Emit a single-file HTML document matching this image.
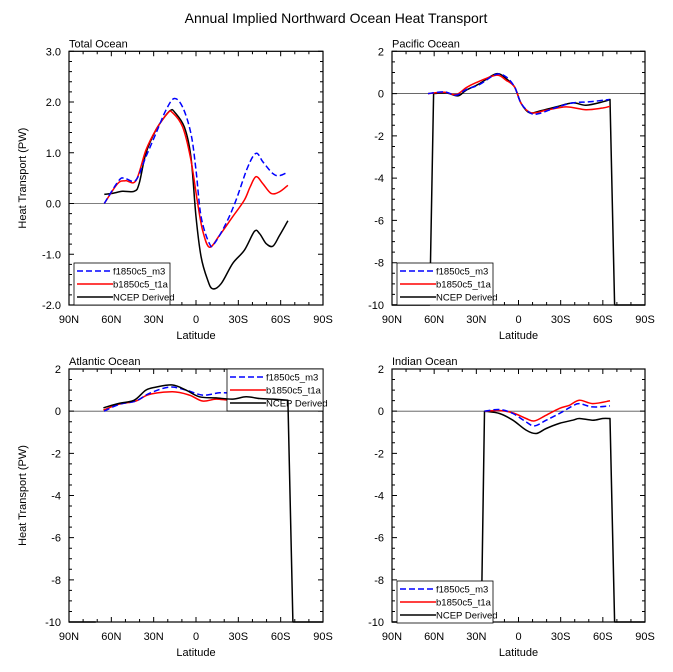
<!DOCTYPE html>
<html><head><meta charset="utf-8"><style>
html,body{margin:0;padding:0;background:#fff;}
svg{display:block;font-family:"Liberation Sans",Arial,sans-serif;}
</style></head><body>
<svg id="s" width="673" height="672" viewBox="0 0 673 672" xmlns="http://www.w3.org/2000/svg">
<text x="336" y="23" font-size="14" text-anchor="middle">Annual Implied Northward Ocean Heat Transport</text>
</svg>
<script>
const S=document.getElementById('s');const NS='http://www.w3.org/2000/svg';
function el(t,a,txt){const e=document.createElementNS(NS,t);for(const k in a)e.setAttribute(k,a[k]);if(txt!==undefined)e.textContent=txt;S.appendChild(e);return e;}
function smooth(P){ // P pixel points; straight segments where jump big
 let d='M'+P[0][0].toFixed(1)+' '+P[0][1].toFixed(1);
 const big=i=>Math.abs(P[i+1][1]-P[i][1])>60;
 for(let i=0;i<P.length-1;i++){
  if(big(i)){d+='L'+P[i+1][0].toFixed(1)+' '+P[i+1][1].toFixed(1);continue;}
  const p0=(i>0&&!big(i-1))?P[i-1]:P[i],p1=P[i],p2=P[i+1],p3=(i+2<P.length&&!big(i+1))?P[i+2]:P[i+1];
  const c1=[p1[0]+(p2[0]-p0[0])/6,p1[1]+(p2[1]-p0[1])/6],c2=[p2[0]-(p3[0]-p1[0])/6,p2[1]-(p3[1]-p1[1])/6];
  d+=`C${c1[0].toFixed(1)} ${c1[1].toFixed(1)} ${c2[0].toFixed(1)} ${c2[1].toFixed(1)} ${p2[0].toFixed(1)} ${p2[1].toFixed(1)}`;
 }
 return d;
}
function panel(P){
 const X=u=>P.x0+(u+90)*(P.x1-P.x0)/180;
 const Y=v=>P.y0+(P.vt-v)*(P.y1-P.y0)/(P.vt-P.vb);
 el('line',{x1:P.x0,x2:P.x1,y1:Y(0),y2:Y(0),stroke:'#555','stroke-width':0.8});
 let d='';
 for(let u=-90;u<=90;u+=10){const maj=u%30==0,L=maj?5:3;const x=X(u);d+=`M${x} ${P.y1}v${-L}M${x} ${P.y0}v${L}`;}
 for(let v=P.vb;v<=P.vt+1e-9;v+=P.mn){const maj=Math.abs((v-P.vb)/P.mj-Math.round((v-P.vb)/P.mj))<1e-6,L=maj?5:3;const y=Y(v);d+=`M${P.x0} ${y}h${L}M${P.x1} ${y}h${-L}`;}
 el('path',{d:d,stroke:'#000','stroke-width':1,fill:'none'});
 const labs=['90N','60N','30N','0','30S','60S','90S'];
 labs.forEach((l,i)=>el('text',{x:X(-90+30*i),y:P.y1+18,'font-size':11,'text-anchor':'middle'},l));
 for(let v=P.vb;v<=P.vt+1e-9;v+=P.mj){el('text',{x:P.x0-8,y:Y(v)+4,'font-size':11,'text-anchor':'end'},P.fmt(v));}
 el('text',{x:(P.x0+P.x1)/2,y:P.y1+34,'font-size':11,'text-anchor':'middle'},'Latitude');
 el('text',{x:P.x0,y:P.y0-4,'font-size':11},P.title);
 if(P.ylab)el('text',{x:0,y:0,'font-size':11,'text-anchor':'middle',transform:`translate(${P.x0-43},${(P.y0+P.y1)/2}) rotate(-90)`},'Heat Transport (PW)');
 P.line=(pts,c,dash)=>{el('path',{d:smooth(pts.map(p=>[X(p[0]),Y(p[1])])),fill:'none',stroke:c,'stroke-width':1.5,'stroke-linejoin':'round','stroke-dasharray':dash||'none'});};
 P.line(P.k,'#000');P.line(P.r,'#f00');P.line(P.b,'#0000ff','6 3');
 el('rect',{x:P.x0,y:P.y0,width:P.x1-P.x0,height:P.y1-P.y0,fill:'none',stroke:'#000','stroke-width':1.2});
 const g=P.lg;el('rect',{x:g[0],y:g[1],width:96,height:42,fill:'#fff',stroke:'#000','stroke-width':0.8});
 [['f1850c5_m3','#0000ff','6 3'],['b1850c5_t1a','#f00'],['NCEP Derived','#000']].forEach((e,i)=>{const y=g[1]+8+i*13;
  el('line',{x1:g[0]+3,x2:g[0]+39,y1:y,y2:y,stroke:e[1],'stroke-width':1.5,'stroke-dasharray':e[2]||'none'});
  el('text',{x:g[0]+39,y:y+3.5,'font-size':9.5},e[0]);});
 return P;
}
const f1=v=>v.toFixed(1),f0=v=>String(Math.round(v));
panel({x0:69,x1:323,y0:51.3,y1:305,vt:3,vb:-2,mj:1,mn:0.2,fmt:f1,title:'Total Ocean',ylab:1,lg:[74,263],
b:[[-65,0],[-54.5,.46],[-50,.49],[-42.6,.46],[-35.5,.92],[-28.4,1.38],[-21.3,1.84],[-15.4,2.07],[-9.5,1.9],[-3.6,1.38],[0,.66],[3.6,-.26],[9.5,-.79],[13,-.79],[21.3,-.39],[28.4,.07],[36.7,.72],[42.6,.99],[47.4,.82],[54.5,.59],[59.2,.55],[65.1,.62]],
r:[[-65,0],[-55.6,.39],[-50,.45],[-42.6,.45],[-35.5,1.05],[-28.4,1.45],[-20.1,1.78],[-16.6,1.79],[-9.5,1.51],[-3.6,.86],[1.2,0],[4.7,-.53],[9.5,-.86],[16.6,-.63],[26,-.26],[34.3,.07],[38.4,.33],[42.6,.53],[47.4,.39],[53.3,.2],[59.2,.23],[65.1,.36]],
k:[[-65,.18],[-59.2,.2],[-52.1,.24],[-43.8,.24],[-40.3,.39],[-35.5,.99],[-28.4,1.45],[-21.3,1.74],[-17.8,1.84],[-15.4,1.81],[-8.3,1.51],[-3.6,.92],[0,-.26],[3.6,-1.05],[8.3,-1.51],[11.8,-1.68],[17.8,-1.58],[26,-1.18],[34.3,-.92],[41.4,-.55],[45,-.59],[49.7,-.79],[54.5,-.84],[59.2,-.63],[65.1,-.34]]});
panel({x0:392,x1:645,y0:51.3,y1:305,vt:2,vb:-10,mj:2,mn:0.5,fmt:f0,title:'Pacific Ocean',lg:[397,263],
b:[[-64.4,0],[-52.6,.08],[-44.3,-.08],[-37.2,.19],[-27.7,.43],[-15.9,.91],[-8.8,.79],[-2.8,.31],[1.9,-.47],[9,-.94],[14.9,-.94],[26.8,-.66],[38.6,-.44],[50.4,-.39],[64.6,-.28]],
r:[[-64.4,0],[-52.6,.06],[-44.3,-.05],[-37.2,.28],[-30.1,.52],[-15.9,.87],[-8.8,.63],[-2.8,.31],[1.9,-.47],[9,-.91],[19.7,-.79],[33.9,-.63],[48,-.76],[59.9,-.68],[65.1,-.6]],
k:[[-90,-10],[-63.2,-10],[-60.4,0],[-51.4,.03],[-43.1,-.11],[-37.2,.16],[-27.7,.47],[-15.9,.94],[-8.8,.71],[-2.8,.31],[1.9,-.47],[7.8,-.91],[14.9,-.83],[26.8,-.63],[38.6,-.44],[48,-.55],[59.9,-.39],[65.1,-.28],[68.4,-10],[90,-10]]});
const A=panel({x0:69,x1:323,y0:369,y1:622,vt:2,vb:-10,mj:2,mn:0.5,fmt:f0,title:'Atlantic Ocean',ylab:1,lg:[227,369],
b:[[-65.1,0],[-54.5,.32],[-42.6,.48],[-33.2,.84],[-18.9,1.14],[-7.1,1],[4.7,.76],[16.6,.87],[28.4,.87],[40.3,1.08],[52.1,.76],[65.1,.63]],
r:[[-65.6,.05],[-54.5,.33],[-42.6,.48],[-33.2,.79],[-16.6,.92],[-4.7,.76],[4.7,.48],[14.2,.57],[26,.52],[36.7,.68],[47.4,.57],[64,.6]],
k:[[-90,-10],[-71,-10]]});
A.line([[-65.6,.16],[-54.5,.37],[-43.8,.52],[-35.5,1],[-28.4,1.14],[-16.6,1.24],[-7.1,1],[2.4,.68],[14.2,.63],[26,.57],[35.5,.68],[45,.6],[54.5,.57],[65.1,.52],[68.7,-10],[90,-10]],'#000');
panel({x0:392,x1:645,y0:369,y1:622,vt:2,vb:-10,mj:2,mn:0.5,fmt:f0,title:'Indian Ocean',lg:[397,581],
b:[[-24.2,0],[-13.5,.08],[-4,-.11],[5.4,-.51],[11.4,-.7],[19.7,-.43],[29.1,-.11],[38.6,.25],[43.3,.36],[52.8,.2],[65.1,.25]],
r:[[-24.2,0],[-13.5,.03],[-4,-.08],[5.4,-.35],[11.4,-.46],[19.7,-.19],[29.1,.13],[36.2,.28],[43.3,.52],[52.8,.36],[65.1,.49]],
k:[[-90,-10],[-26.5,-10],[-24.2,0],[-13.5,-.11],[-4,-.43],[5.4,-.9],[12.6,-1.06],[19.7,-.82],[29.1,-.58],[38.6,-.43],[43.3,-.35],[52.8,-.43],[59.9,-.35],[65.1,-.35],[68.4,-10],[90,-10]]});
</script>
</body></html>
